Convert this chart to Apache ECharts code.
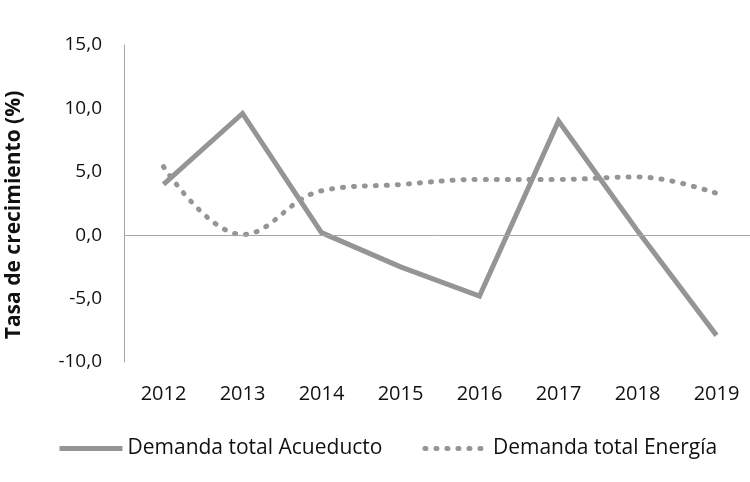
<!DOCTYPE html>
<html>
<head>
<meta charset="utf-8">
<script src="https://cdn.jsdelivr.net/npm/echarts@6/dist/echarts.min.js"></script>
<style>
html,body{margin:0;padding:0;background:#fff;}
#chart{width:750px;height:482px;}
</style>
</head>
<body>
<div id="chart"></div>
<script>
var years = ['2012','2013','2014','2015','2016','2017','2018','2019'];
var acueducto = [4.0, 9.6, 0.2, -2.5, -4.8, 9.0, 0.35, -7.9];
var energia = [5.4, 0.05, 3.5, 4.0, 4.4, 4.4, 4.6, 3.3];
var yTicks = [-10, -5, 0, 5, 10, 15];

var FONT = 'Open Sans';
var GRAY = '#959598';
var TXT = '#111111';
var chart = echarts.init(document.getElementById('chart'));
chart.setOption({
  animation: false,
  backgroundColor: '#fff',
  textStyle: { fontFamily: FONT, color: TXT },
  grid: { left: 124, top: 45, bottom: 120, right: -6, containLabel: false, outerBoundsMode: 'none' },
  legend: {
    left: 57, top: 438, padding: 0,
    itemWidth: 63, itemHeight: 14, itemGap: 40,
    itemStyle: { opacity: 0 },
    lineStyle: { width: 5 },
    textStyle: { fontFamily: FONT, fontSize: 21, color: TXT },
    data: ['Demanda total Acueducto', 'Demanda total Energía']
  },
  xAxis: {
    type: 'category',
    data: years,
    boundaryGap: true,
    axisLine: { show: false },
    axisTick: { show: false },
    axisLabel: { fontFamily: FONT, fontSize: 20, color: TXT, margin: 22 }
  },
  yAxis: {
    type: 'value',
    min: yTicks[0], max: yTicks[yTicks.length - 1], interval: 5,
    name: 'Tasa de crecimiento (%)',
    nameLocation: 'middle',
    nameGap: 99,
    nameTextStyle: { fontFamily: FONT, fontSize: 21, fontWeight: 'bold', color: TXT, padding: [0, 23, 0, 0] },
    axisLine: { show: true, lineStyle: { color: '#a6a6a6', width: 1 } },
    axisTick: { show: false },
    splitLine: { show: false },
    axisLabel: {
      fontFamily: FONT, fontSize: 19, color: TXT, margin: 22,
      formatter: function (v) { return v.toFixed(1).replace('.', ','); }
    }
  },
  series: [
    {
      name: 'Demanda total Acueducto',
      type: 'line',
      data: acueducto,
      symbol: 'none',
      lineStyle: { color: GRAY, width: 5, cap: 'butt', join: 'miter' },
      itemStyle: { color: GRAY },
      markLine: {
        silent: true, symbol: 'none', label: { show: false },
        lineStyle: { color: '#a6a6a6', width: 1, type: 'solid' },
        data: [{ yAxis: 0 }]
      },
      z: 3
    },
    {
      name: 'Demanda total Energía',
      type: 'line',
      data: energia,
      smooth: 0.4,
      symbol: 'none',
      lineStyle: { color: GRAY, width: 5, type: [1, 10], cap: 'round' },
      itemStyle: { color: GRAY },
      z: 2
    }
  ]
});
</script>
</body>
</html>
